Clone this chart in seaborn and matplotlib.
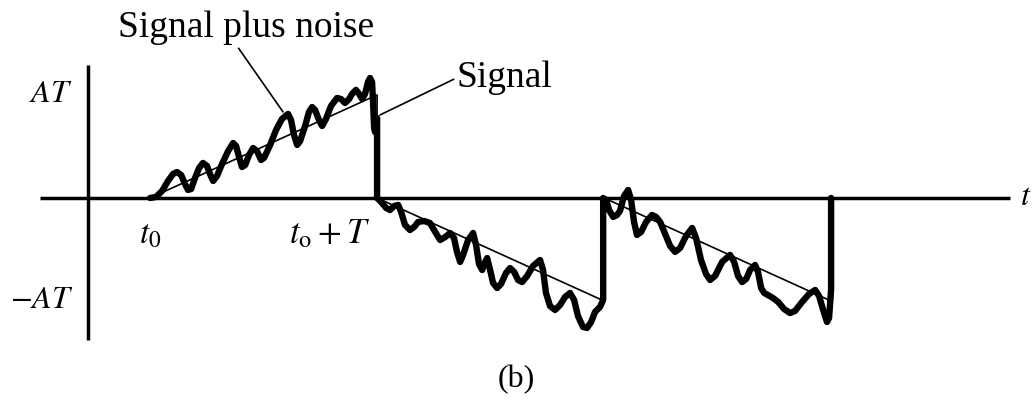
import matplotlib
matplotlib.use("Agg")
import matplotlib.pyplot as plt
import seaborn as sns
import pandas as pd

# time in units where t0 = 1 and T = 1, amplitude in units of AT
signal_t = [1.0, 2.0, 2.0, 3.0, 3.0, 4.0, 4.0]
signal_v = [0.0, 1.0, 0.0, -1.0, 0.0, -1.0, 0.0]

# signal plus noise, one interval at a time
seg1_t = [1.000, 1.026, 1.053, 1.079, 1.101, 1.119, 1.137, 1.154, 1.167, 1.181,
          1.198, 1.216, 1.233, 1.251, 1.264, 1.278, 1.295, 1.317, 1.344, 1.366,
          1.379, 1.392, 1.405, 1.419, 1.436, 1.454, 1.471, 1.489, 1.502, 1.529,
          1.555, 1.581, 1.608, 1.621, 1.634, 1.648, 1.661, 1.683, 1.700, 1.714,
          1.727, 1.744, 1.758, 1.775, 1.797, 1.824, 1.841, 1.859, 1.877, 1.890,
          1.907, 1.921, 1.934, 1.947, 1.960, 1.969, 1.978, 1.982, 1.987, 1.991,
          1.996, 2.000, 2.000]
seg1_v = [0.000, 0.010, 0.068, 0.165, 0.233, 0.252, 0.223, 0.136, 0.078, 0.087,
          0.194, 0.291, 0.340, 0.311, 0.233, 0.165, 0.214, 0.330, 0.456, 0.534,
          0.505, 0.398, 0.301, 0.320, 0.417, 0.485, 0.456, 0.369, 0.388, 0.515,
          0.660, 0.767, 0.816, 0.757, 0.612, 0.515, 0.553, 0.699, 0.835, 0.883,
          0.854, 0.757, 0.699, 0.767, 0.893, 0.971, 0.961, 0.922, 0.961, 1.010,
          1.049, 1.010, 0.961, 1.010, 1.126, 1.165, 1.126, 0.951, 0.680, 0.641,
          0.709, 0.777, 0.000]

seg2_t = [2.018, 2.040, 2.057, 2.075, 2.093, 2.106, 2.123, 2.145, 2.163, 2.181,
          2.207, 2.233, 2.256, 2.278, 2.300, 2.322, 2.339, 2.352, 2.366, 2.379,
          2.401, 2.423, 2.436, 2.449, 2.463, 2.476, 2.485, 2.498, 2.511, 2.529,
          2.546, 2.568, 2.586, 2.604, 2.621, 2.639, 2.661, 2.687, 2.718, 2.731,
          2.744, 2.762, 2.784, 2.806, 2.828, 2.850, 2.868, 2.885, 2.907, 2.925,
          2.943, 2.960, 2.982, 2.996, 2.996]
seg2_v = [-0.039, -0.097, -0.117, -0.078, -0.068, -0.136, -0.262, -0.311, -0.282, -0.233,
          -0.223, -0.243, -0.330, -0.408, -0.379, -0.340, -0.388, -0.524, -0.621, -0.553,
          -0.408, -0.340, -0.456, -0.641, -0.699, -0.621, -0.583, -0.699, -0.825, -0.874,
          -0.835, -0.728, -0.680, -0.718, -0.796, -0.816, -0.757, -0.660, -0.602, -0.699,
          -0.922, -1.049, -1.087, -1.039, -0.961, -0.922, -0.990, -1.146, -1.252, -1.262,
          -1.204, -1.107, -1.058, -0.990, 0.000]

seg3_t = [3.009, 3.022, 3.040, 3.057, 3.070, 3.088, 3.106, 3.119, 3.132, 3.145,
          3.163, 3.185, 3.211, 3.229, 3.247, 3.269, 3.291, 3.313, 3.335, 3.361,
          3.388, 3.405, 3.427, 3.449, 3.467, 3.489, 3.520, 3.555, 3.573, 3.590,
          3.608, 3.626, 3.643, 3.665, 3.678, 3.692, 3.705, 3.722, 3.744, 3.767,
          3.793, 3.819, 3.841, 3.872, 3.903, 3.930, 3.947, 3.965, 3.982, 3.991,
          4.000, 4.000]
seg3_v = [-0.019, -0.117, -0.184, -0.165, -0.126, 0.019, 0.078, -0.019, -0.233, -0.359,
          -0.330, -0.233, -0.165, -0.184, -0.233, -0.350, -0.466, -0.524, -0.485, -0.369,
          -0.291, -0.388, -0.602, -0.738, -0.796, -0.757, -0.621, -0.553, -0.621, -0.757,
          -0.816, -0.786, -0.699, -0.650, -0.718, -0.874, -0.922, -0.942, -0.971, -1.010,
          -1.078, -1.117, -1.097, -1.010, -0.932, -0.893, -0.951, -1.087, -1.204, -1.165,
          -0.893, 0.000]

# extents of the drawn coordinate axes (same units)
t_axis = [0.515, 4.789]
v_axis = [-1.379, 1.291]
t_vaxis = 0.727

sns.set_style("white")
plt.rcParams["font.family"] = ["Liberation Serif", "DejaVu Serif"]
plt.rcParams["mathtext.fontset"] = "stix"
plt.rcParams["text.color"] = "black"

fig = plt.figure(figsize=(10.32, 4.04), dpi=100)
ax = fig.add_axes([0, 0, 1, 1])

df_sig = pd.DataFrame({"t": signal_t, "v": signal_v})
df_noisy = pd.DataFrame({"t": seg1_t + seg2_t + seg3_t,
                         "v": seg1_v + seg2_v + seg3_v})

# coordinate axes
ax.plot(t_axis, [0, 0], color="black", lw=2.5, solid_capstyle="butt")
ax.plot([t_vaxis, t_vaxis], v_axis, color="black", lw=2.5, solid_capstyle="butt")

sns.lineplot(data=df_sig, x="t", y="v", sort=False, estimator=None,
             color="black", lw=1.2, ax=ax)
sns.lineplot(data=df_noisy, x="t", y="v", sort=False, estimator=None,
             color="black", lw=4.6, ax=ax,
             solid_joinstyle="round", solid_capstyle="round")

ax.set_xlim(0.339, 4.885)
ax.set_ylim(-2.0, 1.922)
ax.set_axis_off()

fs = 23
# annotations
ax.annotate("Signal plus noise", xy=(1.586, 0.835), xytext=(1.425, 1.563),
            ha="center", va="baseline", fontsize=27,
            arrowprops=dict(arrowstyle="-", lw=1.2, color="black",
                            shrinkA=0, shrinkB=0, relpos=(0.46, 0.0)))
ax.annotate("Signal", xy=(2.013, 0.806), xytext=(2.352, 1.078),
            ha="left", va="baseline", fontsize=27,
            arrowprops=dict(arrowstyle="-", lw=1.2, color="black",
                            shrinkA=0, shrinkB=0, relpos=(0.0, 0.5)))

ax.text(0.656, 1.0, "$AT$", ha="right", va="center", fontsize=fs)
ax.text(0.665, -1.0, "$-AT$", ha="right", va="center", fontsize=fs)
ax.text(1.0, -0.36, r"$t_\mathrm{0}$", ha="center", va="center", fontsize=24)
ax.text(1.793, -0.36, r"$t_\mathrm{o} + T$", ha="center", va="center", fontsize=25)
ax.text(4.833, 0.0, "$t$", ha="left", va="center", fontsize=fs)
ax.text(2.612, -1.767, "(b)", ha="center", va="center", fontsize=fs)

fig.savefig("out.png", dpi=100, facecolor="white")
